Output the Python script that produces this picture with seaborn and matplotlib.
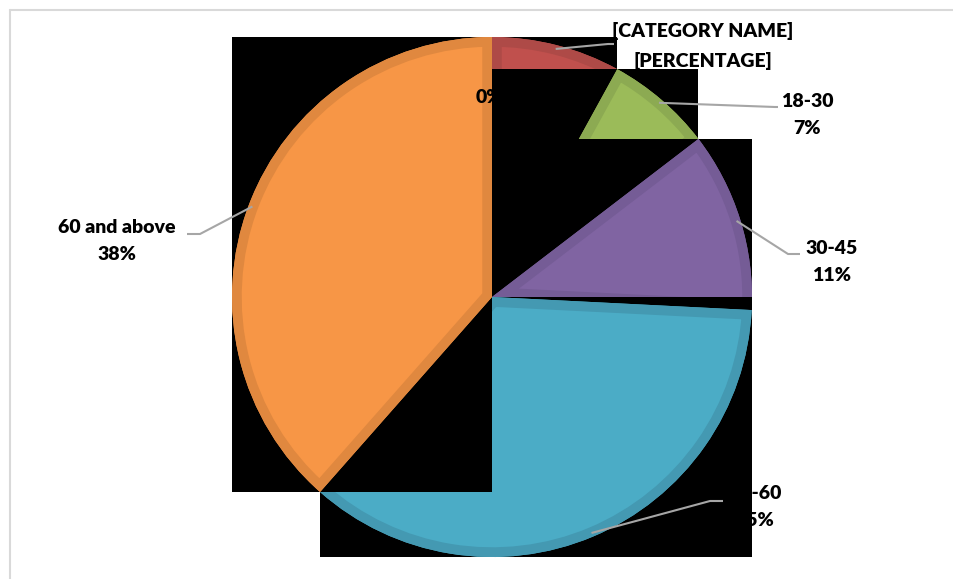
import numpy as np
import matplotlib
matplotlib.use("Agg")
import matplotlib.pyplot as plt
import seaborn as sns
from matplotlib.patches import Rectangle, Wedge
from matplotlib.lines import Line2D

# ---------------- data ----------------
categories = ["[CATEGORY NAME]", "18-30", "30-45", "45-60", "60 and above", ""]
values = [8, 6.6, 11.2, 35.7, 38.5, 0]
pct_labels = ["[PERCENTAGE]", "7%", "11%", "35%", "38%", "0%"]
colors = ["#C0504D", "#9BBB59", "#8064A2", "#4BACC6", "#F79646", "#2C4D75"]
edge_colors = ["#AE4A47", "#8CAA52", "#755C96", "#4499B2", "#E0883F", "#2C4D75"]
# label block centres (image px, y from top) and leader-line ends
label_pos = [(703, 46), (807, 115), (832, 262), (755, 507), (117, 241), (489, 97)]
leader_elbow = [(608, 44), (775, 107), (788, 254), (710, 501), (200, 234), None]
leader_end = [(614, 44), (778, 107), (800, 254), (723, 501), (187, 234), None]

W, H = 954, 579
sns.set_theme(style="white")
plt.rcParams["font.family"] = ["Lato", "DejaVu Sans"]

fig = plt.figure(figsize=(W / 100, H / 100), dpi=100)
ax = fig.add_axes([0, 0, 1, 1])

cx, cy, R = 492, H - 297, 260

wedges, _ = ax.pie(values, colors=colors, startangle=90, counterclock=False,
                   center=(cx, cy), radius=R,
                   wedgeprops=dict(linewidth=0))
ax.set_xlim(0, W)
ax.set_ylim(0, H)
ax.set_aspect("equal")
ax.axis("off")

# wedge drawing order: each slice gets its own black bounding box behind it
z = 3
for i, w in enumerate(wedges):
    if values[i] == 0:
        w.set_visible(False)
        continue
    ext = w.get_path().get_extents()
    box = Rectangle((ext.x0, ext.y0), ext.width, ext.height, facecolor="black",
                    edgecolor="none", zorder=z)
    ax.add_patch(box)
    w.set_zorder(z + 0.1)
    band = Wedge(w.center, w.r, w.theta1, w.theta2, facecolor="none",
                 edgecolor=edge_colors[i], linewidth=14, zorder=z + 0.2)
    ax.add_patch(band)
    band.set_clip_path(w)
    z += 1

# labels
fs = 14
for i, (name, p) in enumerate(zip(categories, pct_labels)):
    lx, ly = label_pos[i]
    txt = p if name == "" else f"{name}\n{p}"
    t = ax.text(lx, H - ly, txt, ha="center", va="center", ma="center",
                fontsize=fs, fontweight="heavy", color="black", linespacing=1.75,
                zorder=1)
    if name == "":
        t.set_zorder(50)
        clip = Rectangle((0, 0), cx, H, transform=ax.transData, visible=False)
        ax.add_patch(clip)
        t.set_clip_path(clip)

    # leader lines
    if leader_elbow[i] is not None:
        w = wedges[i]
        mid = np.deg2rad((w.theta1 + w.theta2) / 2)
        ax_x = cx + 0.985 * R * np.cos(mid)
        ax_y = cy + 0.985 * R * np.sin(mid)
        ex, ey = leader_elbow[i]
        fx, fy = leader_end[i]
        ax.plot([ax_x, ex, fx], [ax_y, H - ey, H - fy], color="#A6A6A6",
                lw=1.5, zorder=60, solid_capstyle="butt")

# chart-area border (extends beyond the image on right/bottom)
fig.add_artist(Line2D([10 / W, 1.0], [1 - 10 / H, 1 - 10 / H],
                      transform=fig.transFigure, color="#D9D9D9", lw=1.5))
fig.add_artist(Line2D([10 / W, 10 / W], [0, 1 - 10 / H],
                      transform=fig.transFigure, color="#D9D9D9", lw=1.5))

fig.savefig("out.png", dpi=100, facecolor="white")
